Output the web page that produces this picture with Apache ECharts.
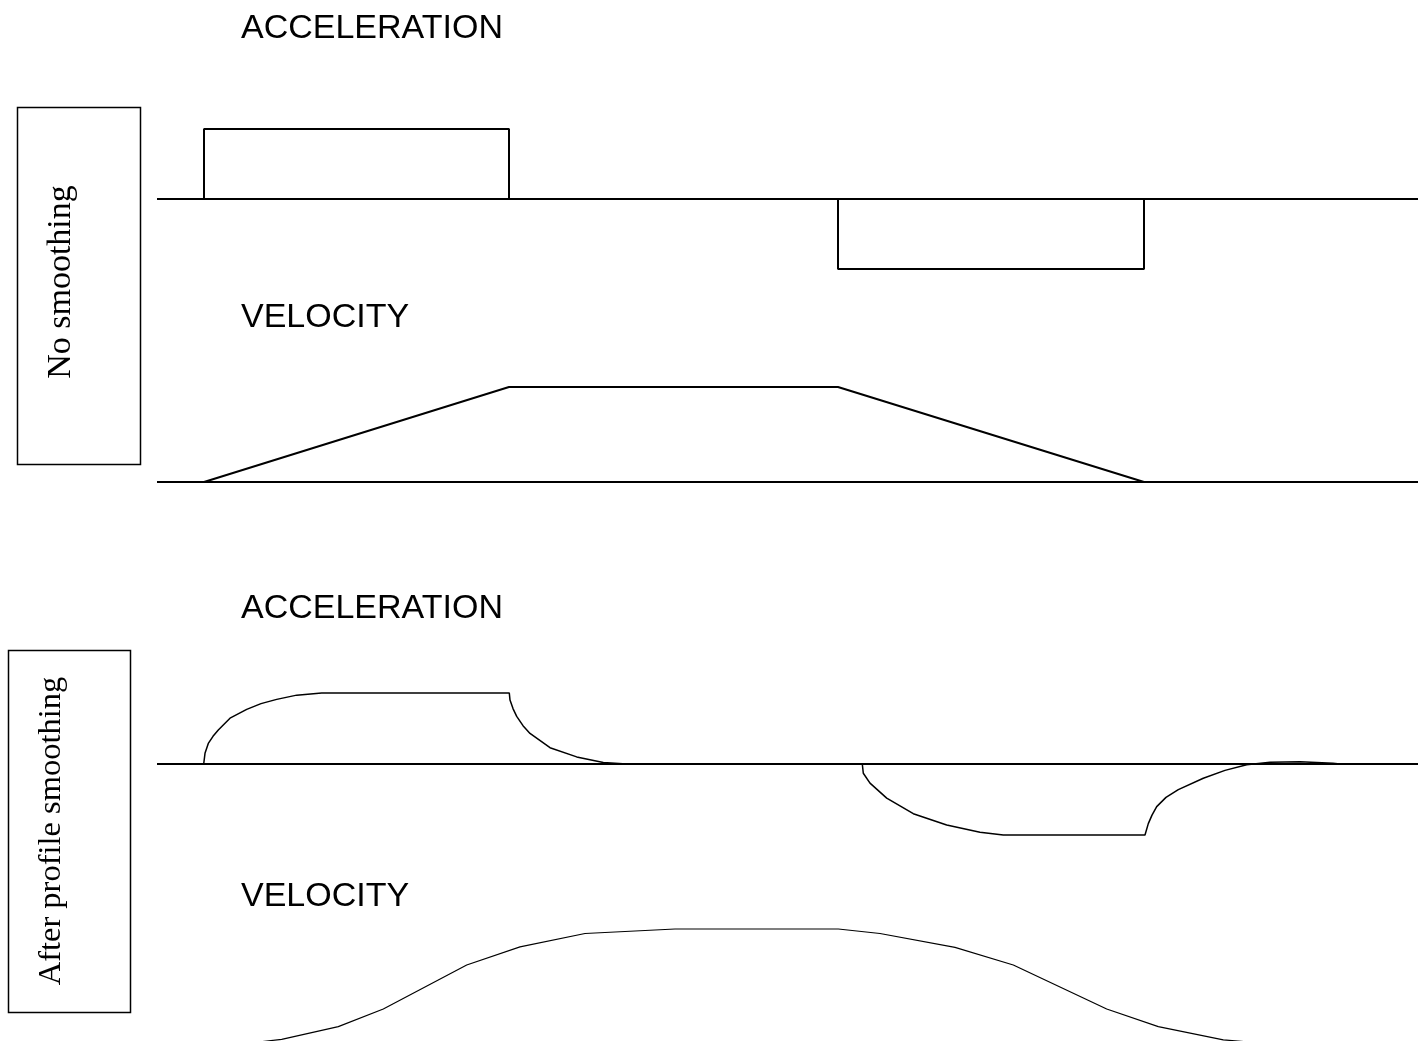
<!DOCTYPE html>
<html>
<head>
<meta charset="utf-8">
<script src="https://cdn.jsdelivr.net/npm/echarts@6/dist/echarts.min.js"></script>
<style>
  html, body { margin: 0; padding: 0; background: #fff; }
  #profile { width: 1418px; height: 1041px; }
</style>
</head>
<body>
<div id="profile"></div>
<script>
// time axis: 0 .. 126.1 (arbitrary units), values normalised to peak = 1
var timeSpan = [0, 126.1];
var panelTitles = ['ACCELERATION', 'VELOCITY', 'ACCELERATION', 'VELOCITY'];
var rowLabels = ['No smoothing', 'After profile smoothing'];

// no smoothing - acceleration (square pulses)
var accelRaw = [
  [4.7, 0], [4.7, 1], [35.2, 1], [35.2, 0],
  [68.1, 0], [68.1, -1], [98.7, -1], [98.7, 0]
];
// no smoothing - velocity (trapezoid)
var velRaw = [[4.7, 0], [35.2, 1], [68.1, 1], [98.7, 0]];

// after smoothing - acceleration
var accelSmoothUp = [
  [4.67, 0], [4.8, 0.15], [5.13, 0.29], [5.6, 0.39], [6.13, 0.48], [7.3, 0.645],
  [8.97, 0.77], [10.4, 0.85], [11.97, 0.91], [13.97, 0.97], [16.47, 1.0],
  [35.23, 1.0], [35.3, 0.9], [35.6, 0.78], [35.97, 0.67], [36.6, 0.54], [37.3, 0.43],
  [39.3, 0.23], [41.97, 0.10], [44.63, 0.02], [46.97, 0]
];
var accelSmoothDown = [
  [70.53, 0], [70.63, -0.13], [71.3, -0.27], [72.97, -0.48], [75.63, -0.70],
  [78.97, -0.86], [82.3, -0.96], [84.63, -1.0], [98.8, -1.0], [99.13, -0.84],
  [99.5, -0.72], [99.97, -0.6], [100.9, -0.47], [102.13, -0.36], [104.63, -0.2],
  [106.8, -0.09], [108.97, -0.01], [111.3, 0.025], [114.3, 0.03], [117.6, 0.01], [118.3, 0]
];
// after smoothing - velocity
var velSmooth = [
  [10.1, -0.01], [12.47, 0.015], [18.13, 0.128], [22.63, 0.286], [30.97, 0.679],
  [36.3, 0.84], [42.8, 0.96], [51.8, 1.0], [68.13, 1.0], [72.3, 0.96],
  [79.8, 0.836], [85.63, 0.679], [94.97, 0.286], [100.13, 0.128],
  [106.63, 0.01], [109.3, -0.01]
];
var baseline = [[timeSpan[0], 0], [timeSpan[1], 0]];

var myChart = echarts.init(document.getElementById('profile'));

var gridBoxes = [
  { top: 129, height: 140 },
  { top: 387, height: 95 },
  { top: 693, height: 142 },
  { top: 929, height: 112 }
];
var yRanges = [[-1, 1], [0, 1], [-1, 1], [0, 1]];

function lineSeries(idx, data, width) {
  return {
    type: 'line',
    xAxisIndex: idx,
    yAxisIndex: idx,
    data: data,
    showSymbol: false,
    symbol: 'none',
    clip: false,
    silent: true,
    lineStyle: { color: '#000', width: width }
  };
}

var titleFont = '34px "Liberation Sans", Arial, sans-serif';
var titleY = [27, 316, 607, 895];

var graphics = [];
panelTitles.forEach(function (t, i) {
  graphics.push({
    type: 'text', left: 241, top: titleY[i] - 15,
    style: { text: t, font: titleFont, fill: '#000' }
  });
});
// boxed row labels
graphics.push({
  type: 'rect', shape: { x: 17.5, y: 107.5, width: 123, height: 357 },
  style: { fill: 'none', stroke: '#000', lineWidth: 1.5 }
});
graphics.push({
  type: 'text', x: 61, y: 282, rotation: Math.PI / 2,
  style: { text: rowLabels[0], font: '34px "Liberation Serif", "Times New Roman", serif', fill: '#000', align: 'center', verticalAlign: 'middle' }
});
graphics.push({
  type: 'rect', shape: { x: 8.5, y: 650.5, width: 122, height: 362 },
  style: { fill: 'none', stroke: '#000', lineWidth: 1.5 }
});
graphics.push({
  type: 'text', x: 51, y: 831, rotation: Math.PI / 2,
  style: { text: rowLabels[1], font: '32.5px "Liberation Serif", "Times New Roman", serif', fill: '#000', align: 'center', verticalAlign: 'middle' }
});

var option = {
  animation: false,
  backgroundColor: '#fff',
  grid: gridBoxes.map(function (g) {
    return { left: 157, right: 0, top: g.top, height: g.height };
  }),
  xAxis: gridBoxes.map(function (g, i) {
    return { type: 'value', gridIndex: i, min: timeSpan[0], max: timeSpan[1], show: false };
  }),
  yAxis: gridBoxes.map(function (g, i) {
    return { type: 'value', gridIndex: i, min: yRanges[i][0], max: yRanges[i][1], show: false };
  }),
  graphic: graphics,
  series: [
    lineSeries(0, baseline, 2),
    lineSeries(0, accelRaw, 2),
    lineSeries(1, baseline, 2),
    lineSeries(1, velRaw, 2),
    lineSeries(2, baseline, 2),
    lineSeries(2, accelSmoothUp, 1.5),
    lineSeries(2, accelSmoothDown, 1.5),
    lineSeries(3, velSmooth, 1.2)
  ]
};

myChart.setOption(option);
</script>
</body>
</html>
